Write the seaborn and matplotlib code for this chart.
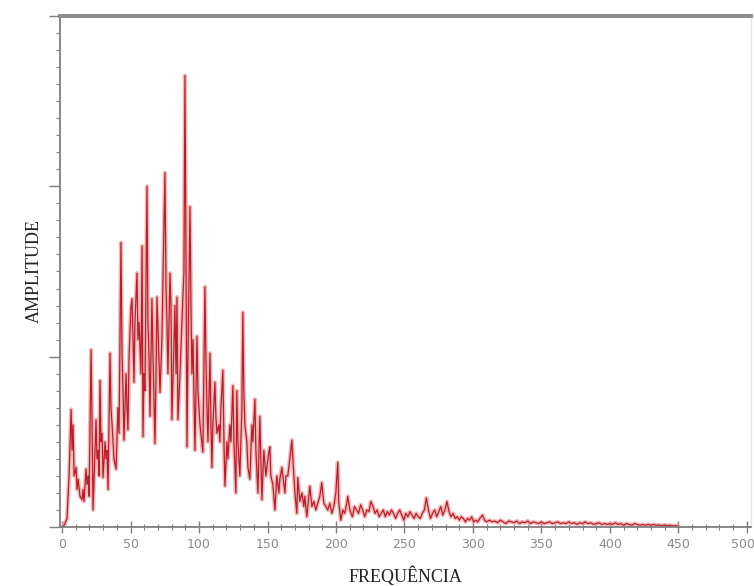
import matplotlib
matplotlib.use("Agg")
import matplotlib.pyplot as plt
from matplotlib.ticker import MultipleLocator, NullFormatter
import matplotlib.transforms as mtransforms
import seaborn as sns
import pandas as pd

# ---- data ----
freq_low = [
    0, 1.5, 3.6, 5.1, 6.6, 7.3, 8.0, 8.8, 10.2, 10.9,
    11.7, 13.1, 14.6, 15.3, 16.0, 17.5, 18.2, 19.0, 19.7, 21.2,
    21.9, 22.6, 24.1, 24.8, 25.5, 26.3, 27.0, 27.7, 28.4, 29.2,
    29.9, 31.4, 32.1, 32.8, 33.6, 35.0, 35.7, 36.5, 37.9, 39.4,
    40.8, 41.6, 43.0, 43.8, 44.5, 45.2, 46.7, 47.4, 48.1, 48.9,
    50.3, 51.1, 51.8, 52.5, 53.2, 54.7, 55.4, 56.2, 57.6, 58.4,
    59.1, 59.8, 60.5, 62.0, 62.7, 63.5, 64.2, 65.6, 66.4, 67.8,
    68.6, 69.3, 71.5, 72.9, 75.1, 75.9, 76.6, 77.3, 78.8, 79.5,
    80.2, 81.7, 82.4, 83.2, 83.9, 84.6, 86.1, 87.5, 89.0, 89.7,
    90.4, 91.2, 91.9, 93.4, 94.1, 94.8, 95.6, 97.0, 98.5, 99.2,
    100.7, 102.8, 104.3, 105.0, 105.8, 106.5, 108.0, 108.7, 109.4, 110.1,
    111.6, 112.3, 113.1, 114.5, 115.2, 116.0, 117.4, 118.2, 118.9, 120.4,
    121.1, 122.5, 123.3, 124.7, 125.5, 126.9, 127.6, 128.4, 129.8, 131.3,
    132.0, 132.7, 133.5, 134.9, 135.7, 137.1, 138.6, 139.3, 140.8, 141.5,
    143.0, 144.4, 145.2, 145.9, 147.3, 148.8, 149.5, 151.0, 151.7, 152.4,
    153.9, 155.4, 156.8, 158.3, 159.0, 160.5, 161.2, 162.7, 163.4, 164.8,
    166.3, 167.8, 168.5, 170.0, 171.4, 172.1, 173.6, 175.1, 176.5, 177.2,
    178.7, 180.2, 180.9, 182.4, 183.8, 185.3, 186.7, 188.2, 189.6, 191.1,
    192.6, 194.0, 195.5, 196.9, 198.4, 199.9, 201.3, 202.0, 203.5, 205.0,
    206.4, 207.9, 208.6, 210.1,
]
amp_low = [
    0.0, 0.01, 0.05, 0.3, 0.69, 0.45, 0.6, 0.3, 0.35, 0.22,
    0.28, 0.18, 0.16, 0.22, 0.15, 0.34, 0.25, 0.3, 0.18, 1.04,
    0.6, 0.1, 0.45, 0.63, 0.4, 0.45, 0.3, 0.86, 0.5, 0.55,
    0.29, 0.5, 0.4, 0.45, 0.22, 1.02, 0.7, 0.6, 0.4, 0.34,
    0.7, 0.55, 1.67, 1.0, 0.8, 0.51, 0.9, 0.7, 0.57, 1.0,
    1.29, 1.34, 1.1, 0.85, 1.2, 1.49, 1.1, 1.2, 0.9, 1.65,
    0.53, 0.9, 0.8, 2.0, 1.2, 1.0, 0.65, 1.34, 1.0, 0.49,
    0.9, 1.35, 0.79, 1.1, 2.08, 1.4, 1.2, 0.9, 1.49, 1.3,
    0.63, 1.1, 1.3, 0.9, 1.35, 0.63, 0.9, 1.2, 1.5, 2.65,
    1.7, 0.47, 1.0, 1.88, 1.3, 0.9, 1.1, 0.45, 1.12, 0.8,
    0.6, 0.44, 1.41, 1.0, 0.7, 0.5, 1.02, 0.6, 0.35, 0.6,
    0.85, 0.65, 0.55, 0.6, 0.5, 0.7, 0.92, 0.5, 0.24, 0.5,
    0.4, 0.6, 0.5, 0.83, 0.5, 0.2, 0.8, 0.5, 0.3, 0.7,
    1.26, 0.8, 0.6, 0.5, 0.35, 0.28, 0.6, 0.5, 0.75, 0.45,
    0.2, 0.65, 0.4, 0.16, 0.45, 0.3, 0.35, 0.44, 0.47, 0.3,
    0.25, 0.1, 0.3, 0.2, 0.28, 0.35, 0.3, 0.2, 0.3, 0.3,
    0.4, 0.51, 0.4, 0.2, 0.08, 0.29, 0.15, 0.2, 0.12, 0.18,
    0.06, 0.18, 0.24, 0.12, 0.15, 0.1, 0.14, 0.18, 0.26, 0.14,
    0.12, 0.1, 0.14, 0.08, 0.12, 0.2, 0.38, 0.15, 0.04, 0.1,
    0.08, 0.14, 0.18, 0.1,
]
freq_high = [
    212, 213.5, 215, 216.5, 218, 219.5, 221, 222.5, 224, 225.5,
    227, 228.5, 230, 231.5, 233, 234.5, 236, 237.5, 239, 240.5,
    242, 243.5, 245, 246.5, 248, 249.5, 251, 252.5, 254, 255.5,
    257, 258.5, 260, 261.5, 263, 264.5, 266, 267.5, 269, 270.5,
    272, 273.5, 275, 276.5, 278, 279.5, 281, 282.5, 284, 285.5,
    287, 288.5, 290, 291.5, 293, 294.5, 296, 297.5, 299, 300.5,
    302, 303.5, 305, 307, 308.5, 310, 312, 314, 316, 318,
    320, 322, 324, 326, 328, 330, 332, 334, 336, 338,
    340, 342, 344, 346, 348, 350, 352, 354, 356, 358,
    360, 362, 364, 366, 368, 370, 372, 374, 376, 378,
    380, 382, 384, 386, 388, 390, 392, 394, 396, 398,
    400, 402, 404, 406, 408, 410, 412, 414, 416, 418,
    420, 422, 424, 426, 428, 430, 432, 434, 436, 438,
    440, 442, 444, 446, 448, 450,
]
amp_high = [
    0.06, 0.12, 0.1, 0.08, 0.13, 0.1, 0.06, 0.1, 0.09, 0.15,
    0.12, 0.08, 0.1, 0.06, 0.08, 0.1, 0.06, 0.09, 0.07, 0.1,
    0.08, 0.05, 0.08, 0.1, 0.07, 0.04, 0.08, 0.06, 0.09, 0.07,
    0.05, 0.08, 0.06, 0.05, 0.08, 0.1, 0.17, 0.1, 0.05, 0.08,
    0.1, 0.06, 0.09, 0.12, 0.07, 0.1, 0.15, 0.09, 0.06, 0.08,
    0.05, 0.06, 0.04, 0.06, 0.05, 0.03, 0.05, 0.04, 0.06, 0.03,
    0.04, 0.03, 0.05, 0.07, 0.04, 0.03, 0.04, 0.03, 0.035, 0.025,
    0.04, 0.03, 0.02, 0.035, 0.03, 0.025, 0.035, 0.02, 0.03, 0.025,
    0.035, 0.02, 0.03, 0.025, 0.02, 0.03, 0.02, 0.025, 0.03, 0.02,
    0.025, 0.03, 0.02, 0.025, 0.02, 0.03, 0.02, 0.025, 0.015, 0.025,
    0.02, 0.03, 0.02, 0.025, 0.015, 0.02, 0.025, 0.015, 0.02, 0.015,
    0.02, 0.015, 0.025, 0.015, 0.02, 0.01, 0.02, 0.015, 0.01, 0.02,
    0.015, 0.01, 0.015, 0.01, 0.015, 0.01, 0.015, 0.01, 0.012, 0.008,
    0.012, 0.008, 0.01, 0.006, 0.008, 0.005,
]
x_ticks = [0, 50, 100, 150, 200, 250, 300, 350, 400, 450, 500]
x_label = "FREQUÊNCIA"
y_label = "AMPLITUDE"

assert len(freq_low) == len(amp_low), (len(freq_low), len(amp_low))
assert len(freq_high) == len(amp_high), (len(freq_high), len(amp_high))

df = pd.DataFrame({"freq": freq_low + freq_high, "amp": amp_low + amp_high})

# ---- figure ----
sns.set_style("white")
fig = plt.figure(figsize=(7.54, 5.86), dpi=100)
ax = fig.add_axes([0.0796, 0.1007, 0.9164, 0.872])

# soft pink halo + main red trace
sns.lineplot(data=df, x="freq", y="amp", ax=ax, color="#f2a0a0",
             linewidth=3.0, alpha=0.75, estimator=None, sort=False)
sns.lineplot(data=df, x="freq", y="amp", ax=ax, color="#b81f2b",
             linewidth=0.9, estimator=None, sort=False)

ax.set_xlim(-1.5, 503)
ax.set_ylim(0, 3.0)

ax.set_xticks(x_ticks)
ax.set_xticklabels([str(t) for t in x_ticks])
ax.xaxis.set_minor_locator(MultipleLocator(10))
ax.yaxis.set_major_locator(MultipleLocator(1))
ax.yaxis.set_minor_locator(MultipleLocator(0.1))
ax.yaxis.set_major_formatter(NullFormatter())

gray = "#7f7f7f"
ax.tick_params(axis="x", which="major", direction="inout", length=8, width=1.0,
               color=gray, labelcolor="#8a8a8a", labelsize=9, pad=4, bottom=True)
ax.tick_params(axis="x", which="minor", direction="inout", length=4, width=0.8,
               color=gray, bottom=True)
ax.tick_params(axis="y", which="major", direction="out", length=8, width=1.0,
               color=gray, left=True)
ax.tick_params(axis="y", which="minor", direction="out", length=3, width=0.8,
               color=gray, left=True)

# nudge the last tick label so it stays inside the canvas
last = ax.get_xticklabels()[-1]
last.set_transform(last.get_transform() +
                   mtransforms.ScaledTranslation(-4 / 100, 0, fig.dpi_scale_trans))

for side in ["left", "bottom"]:
    ax.spines[side].set_color(gray)
    ax.spines[side].set_linewidth(1.3)
ax.spines["top"].set_color("#8c8c8c")
ax.spines["top"].set_linewidth(2.8)
ax.spines["right"].set_color("#e6e6e6")
ax.spines["right"].set_linewidth(1.0)

ax.set_xlabel(x_label, family=["Liberation Serif", "DejaVu Serif"], fontsize=13,
              color="#222222", labelpad=11)
ax.set_ylabel(y_label, family=["Liberation Serif", "DejaVu Serif"], fontsize=13,
              color="#222222", labelpad=1)

fig.savefig("out.png", dpi=100)
